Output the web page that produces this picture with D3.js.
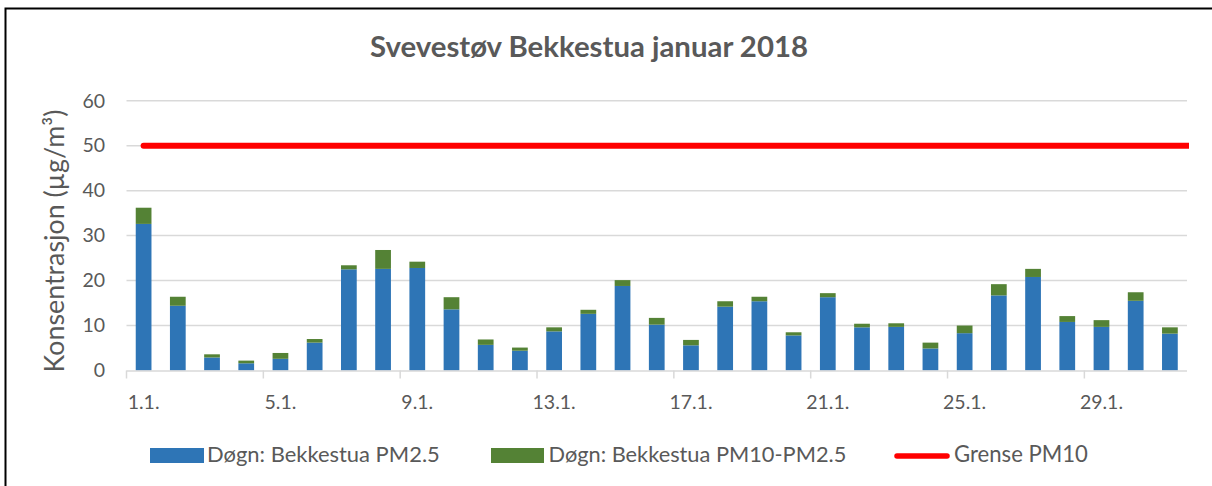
<!DOCTYPE html>
<html><head><meta charset="utf-8">
<script src="https://cdn.jsdelivr.net/npm/d3@7"></script>
<style>body{margin:0;background:#fff;} svg{display:block;} text{font-family:Lato, "Open Sans", sans-serif;}</style>
</head><body>
<svg id="c" width="1212" height="486"></svg>
<script>
const days = d3.range(1, 32).map(d => d + ".1.");
const pm25 = [32.6,14.4,2.9,1.6,2.6,6.2,22.5,22.6,22.8,13.6,5.7,4.4,8.7,12.6,18.8,10.2,5.6,14.2,15.4,7.8,16.3,9.6,9.7,4.9,8.3,16.7,20.8,10.8,9.7,15.5,8.2];
const pm10total = [36.2,16.4,3.6,2.2,3.9,7.0,23.4,26.8,24.2,16.3,6.9,5.1,9.6,13.5,20.1,11.7,6.8,15.4,16.4,8.5,17.2,10.4,10.5,6.2,10.0,19.2,22.6,12.1,11.2,17.4,9.6];
const coarse = pm10total.map((t, i) => +(t - pm25[i]).toFixed(1));
const limit = days.map(() => 50);
const yTicks = [0,10,20,30,40,50,60];
const xTickLabels = ["1.1.","5.1.","9.1.","13.1.","17.1.","21.1.","25.1.","29.1."];
const seriesNames = ["Døgn: Bekkestua PM2.5","Døgn: Bekkestua PM10-PM2.5","Grense PM10"];
const colors = ["#2E75B6","#548235","#FF0000"];
const textCol = "#595959";

const svg = d3.select("#c");
const L = 126.5, R = 1187, T = 100.7, B = 370.5;

// frame
svg.append("rect").attr("x",5.5).attr("y",8.5).attr("width",1250).attr("height",600)
  .attr("fill","none").attr("stroke","#000").attr("stroke-width",2);

const x = d3.scaleBand().domain(days).range([L, R]).paddingInner(0.54).paddingOuter(0.27);
const y = d3.scaleLinear().domain([0,60]).range([B, T]);

function fit(sel, target){
  const n = sel.node();
  const w = n.getComputedTextLength();
  const fs = parseFloat(sel.attr("font-size"));
  sel.attr("font-size", fs * target / w);
}

// gridlines
svg.append("g").selectAll("line").data(yTicks.filter(v => v > 0)).join("line")
  .attr("x1", L).attr("x2", R).attr("y1", d => y(d)).attr("y2", d => y(d))
  .attr("stroke","#d9d9d9").attr("stroke-width",1.5);

// y labels
const yl = svg.append("g").selectAll("text").data(yTicks).join("text")
  .attr("x", 105).attr("y", d => y(d)).attr("dy","0.35em").attr("text-anchor","end")
  .attr("font-size",19.5).attr("fill",textCol).text(d => d);

// bars
const stack = days.map((d,i) => ({day:d, a:pm25[i], b:coarse[i]}));
const g = svg.append("g");
g.selectAll("rect.a").data(stack).join("rect").attr("class","a")
  .attr("x", d => x(d.day)).attr("width", x.bandwidth())
  .attr("y", d => y(d.a)).attr("height", d => y(0) - y(d.a)).attr("fill", colors[0]);
g.selectAll("rect.b").data(stack).join("rect").attr("class","b")
  .attr("x", d => x(d.day)).attr("width", x.bandwidth())
  .attr("y", d => y(d.a + d.b)).attr("height", d => y(d.a) - y(d.a + d.b)).attr("fill", colors[1]);

// x axis line and ticks
svg.append("line").attr("x1",L).attr("x2",R).attr("y1",B+0.5).attr("y2",B+0.5)
  .attr("stroke","#d9d9d9").attr("stroke-width",1.5);
const tickIdx = d3.range(0, days.length + 1, 4);
svg.append("g").selectAll("line").data(tickIdx).join("line")
  .attr("x1", i => L + i * x.step()).attr("x2", i => L + i * x.step())
  .attr("y1", B).attr("y2", B + 8).attr("stroke","#d9d9d9").attr("stroke-width",1.5);
svg.append("g").selectAll("text").data(xTickLabels).join("text")
  .attr("x", d => x(d) + x.bandwidth()/2).attr("y", 409)
  .attr("text-anchor","middle").attr("font-size",19.5).attr("fill",textCol).text(d => d);

// limit line
svg.append("clipPath").attr("id","cp").append("rect").attr("x",0).attr("y",0).attr("width",1189).attr("height",486);
const lpts = days.map((d,i) => [x(d) + x.bandwidth()/2, y(limit[i])]);
lpts.push([R + 10, y(limit[limit.length-1])]);
svg.append("path").attr("clip-path","url(#cp)").attr("d", d3.line()(lpts))
  .attr("fill","none").attr("stroke",colors[2]).attr("stroke-width",6).attr("stroke-linecap","round");

// title
const t = svg.append("text").attr("x",589).attr("y",57).attr("text-anchor","middle")
  .attr("font-size",27).attr("font-weight","bold").attr("fill",textCol).text("Svevestøv Bekkestua januar 2018");
fit(t, 438);

// y title
const yt = svg.append("text").attr("transform","translate(64,241) rotate(-90)").attr("text-anchor","middle")
  .attr("font-size",21).attr("fill",textCol).text("Konsentrasjon (µg/m³)");
fit(yt, 263);

// legend
const lg = svg.append("g");
lg.append("rect").attr("x",150).attr("y",448).attr("width",54).attr("height",15).attr("fill",colors[0]);
const l1 = lg.append("text").attr("x",207).attr("y",462).attr("font-size",19.5).attr("fill",textCol).text(seriesNames[0]);
fit(l1, 233);
lg.append("rect").attr("x",491).attr("y",448).attr("width",53).attr("height",15).attr("fill",colors[1]);
const l2 = lg.append("text").attr("x",548.5).attr("y",462).attr("font-size",19.5).attr("fill",textCol).text(seriesNames[1]);
fit(l2, 298);
lg.append("line").attr("x1",897).attr("x2",947).attr("y1",456).attr("y2",456)
  .attr("stroke",colors[2]).attr("stroke-width",5.5).attr("stroke-linecap","round");
const l3 = lg.append("text").attr("x",954).attr("y",462).attr("font-size",19.5).attr("fill",textCol).text(seriesNames[2]);
fit(l3, 134);
</script>
</body></html>
